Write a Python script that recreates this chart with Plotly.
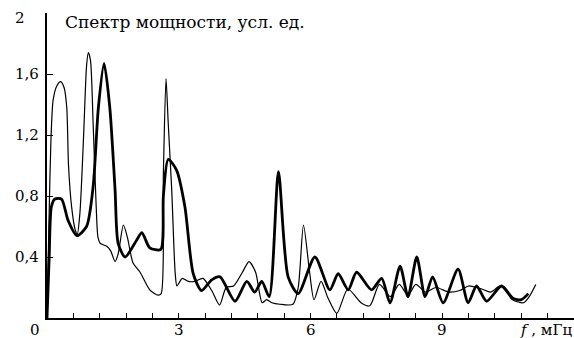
import plotly.graph_objects as go

# ---- data ----
thin_x = [0.0, 0.05, 0.09, 0.14, 0.22, 0.31, 0.39, 0.45, 0.49, 0.56, 0.64, 0.69, 0.75, 0.83, 0.9, 0.94,
          0.99, 1.05, 1.12, 1.16, 1.21, 1.36, 1.45, 1.55, 1.62, 1.74, 1.83, 1.96, 2.12, 2.34, 2.53, 2.6,
          2.65, 2.71, 2.76, 2.84, 2.92, 2.96, 3.08, 3.22, 3.37, 3.55, 3.75, 3.93, 4.08, 4.25, 4.45, 4.6,
          4.75, 4.9, 5.0, 5.12, 5.3, 5.6, 5.72, 5.84, 5.98, 6.08, 6.24, 6.4, 6.6, 6.85, 7.15, 7.35, 7.57,
          7.82, 8.02, 8.22, 8.4, 8.62, 8.86, 9.15, 9.4, 9.6, 9.9, 10.1, 10.33, 10.6, 10.85, 10.98, 11.13]
thin_y = [0.0, 0.7, 1.17, 1.43, 1.52, 1.55, 1.51, 1.38, 1.0, 0.73, 0.58, 0.55, 0.69, 1.17, 1.65, 1.74,
          1.69, 1.28, 0.73, 0.53, 0.49, 0.47, 0.44, 0.37, 0.42, 0.61, 0.53, 0.36, 0.3, 0.185, 0.15, 0.16,
          0.95, 1.57, 1.28, 0.84, 0.29, 0.21, 0.26, 0.24, 0.24, 0.26, 0.18, 0.085, 0.2, 0.21, 0.3, 0.37,
          0.3, 0.1, 0.12, 0.1, 0.09, 0.09, 0.2, 0.61, 0.3, 0.12, 0.24, 0.13, 0.03, 0.19, 0.1, 0.08, 0.22,
          0.14, 0.22, 0.15, 0.22, 0.17, 0.2, 0.17, 0.18, 0.21, 0.19, 0.17, 0.21, 0.12, 0.1, 0.14, 0.22]

thick_x = [0.0, 0.05, 0.1, 0.18, 0.33, 0.48, 0.68, 0.9, 1.05, 1.17, 1.3, 1.43, 1.55, 1.62, 1.78, 2.04,
           2.16, 2.34, 2.59, 2.65, 2.76, 2.95, 3.14, 3.33, 3.52, 3.75, 3.94, 4.28, 4.55, 4.73, 4.89, 5.06,
           5.27, 5.49, 5.72, 6.1, 6.44, 6.63, 6.86, 7.05, 7.39, 7.62, 7.81, 8.04, 8.22, 8.42, 8.61, 8.78,
           9.02, 9.36, 9.59, 9.78, 10.01, 10.35, 10.61, 10.8, 10.96]
thick_y = [0.0, 0.4, 0.73, 0.78, 0.78, 0.64, 0.54, 0.6, 0.86, 1.38, 1.67, 1.38, 0.84, 0.49, 0.4, 0.51,
           0.56, 0.46, 0.45, 0.8, 1.04, 0.97, 0.73, 0.29, 0.18, 0.25, 0.27, 0.11, 0.24, 0.17, 0.24, 0.14,
           0.96, 0.27, 0.16, 0.4, 0.185, 0.29, 0.185, 0.3, 0.185, 0.26, 0.1, 0.34, 0.14, 0.4, 0.14, 0.27,
           0.1, 0.32, 0.1, 0.21, 0.11, 0.21, 0.13, 0.12, 0.16]

x_minor_ticks = [round(0.6 * i, 1) for i in range(1, 20)]
x_label_vals = [0, 3, 6, 9]
x_label_text = ["0", "3", "6", "9"]
y_tick_vals = [0.4, 0.8, 1.2, 1.6, 2.0]
y_tick_text = ["0,4", "0,8", "1,2", "1,6", "2"]
title_text = "Спектр мощности, усл. ед."
x_title = "<i>f</i> , мГц"

FONT = "DejaVu Serif"
FS = 15

fig = go.Figure()
fig.add_trace(go.Scatter(x=thin_x, y=thin_y, mode="lines",
                         line=dict(color="black", width=1.2, shape="spline", smoothing=0.7),
                         showlegend=False, hoverinfo="skip"))
fig.add_trace(go.Scatter(x=thick_x, y=thick_y, mode="lines",
                         line=dict(color="black", width=2.8, shape="spline", smoothing=0.7),
                         showlegend=False, hoverinfo="skip"))

annotations = []
for v, t in zip(y_tick_vals, y_tick_text):
    annotations.append(dict(x=-0.0645, xref="paper", y=v, yref="y", text=t, showarrow=False,
                            xanchor="left", yanchor="middle",
                            yshift=-5 if v == 2.0 else 0,
                            font=dict(family=FONT, size=FS, color="black")))
for v, t in zip(x_label_vals, x_label_text):
    annotations.append(dict(x=v, xref="x", y=-0.038, yref="paper", text=t, showarrow=False,
                            xanchor="center", yanchor="middle",
                            xshift=-12 if v == 0 else 0,
                            font=dict(family=FONT, size=FS, color="black")))
annotations.append(dict(x=1.0, xref="paper", y=-0.038, yref="paper", text=x_title, showarrow=False,
                        xanchor="right", yanchor="middle",
                        font=dict(family=FONT, size=FS, color="black")))
annotations.append(dict(x=0.03, xref="paper", y=0.97, yref="paper", text=title_text, showarrow=False,
                        xanchor="left", yanchor="middle",
                        font=dict(family=FONT, size=17, color="black")))

fig.update_layout(
    width=574, height=338,
    margin=dict(l=47, r=0, t=13, b=20, pad=0),
    paper_bgcolor="white", plot_bgcolor="white",
    font=dict(family=FONT),
    annotations=annotations,
    xaxis=dict(range=[0, 12], showline=True, linecolor="black", linewidth=1.5,
               ticks="inside", ticklen=5, tickwidth=1.2, tickcolor="black",
               tickvals=x_minor_ticks, showticklabels=False, showgrid=False, zeroline=False),
    yaxis=dict(range=[0, 2], showline=True, linecolor="black", linewidth=1.5,
               ticks="inside", ticklen=6, tickwidth=1.2, tickcolor="black",
               tickvals=y_tick_vals, showticklabels=False, showgrid=False, zeroline=False),
)

fig.write_html("out.html")
